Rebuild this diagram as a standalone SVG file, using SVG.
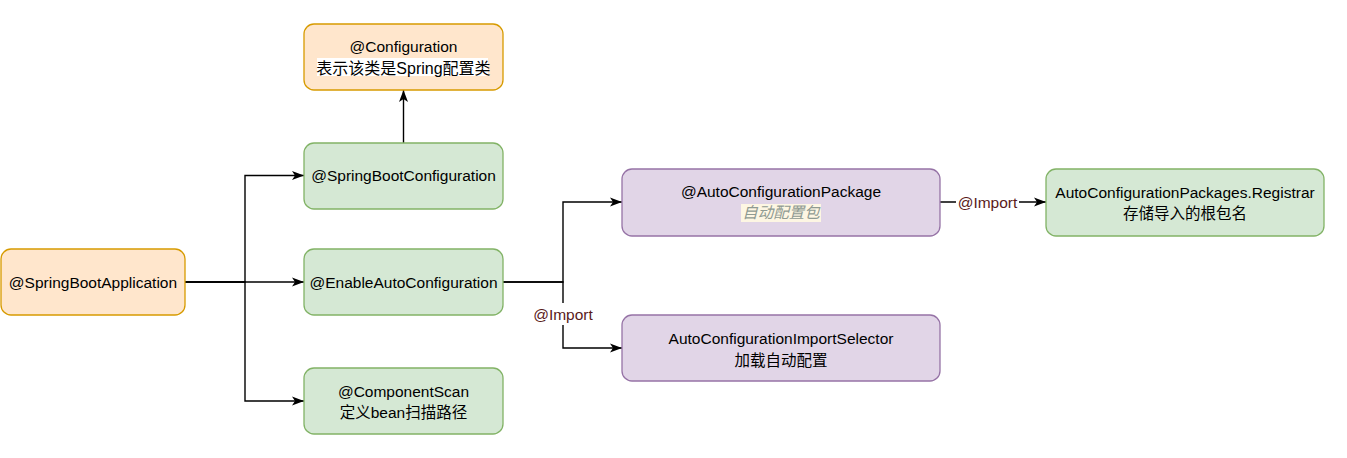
<svg xmlns="http://www.w3.org/2000/svg" width="1347" height="458" viewBox="0 0 1347 458">
<style>
text{font-family:"Liberation Sans","Noto Sans CJK SC",sans-serif;font-size:15.5px;fill:#000;text-anchor:middle}
.orange{fill:#ffe6cc;stroke:#d79b00;stroke-width:1.3}
.green{fill:#d5e8d4;stroke:#82b366;stroke-width:1.3}
.purple{fill:#e1d5e7;stroke:#9673a6;stroke-width:1.3}
.edge{fill:none;stroke:#000;stroke-width:1.4}
.lbl{fill:#5a1a1a}
</style>
<defs>
<marker id="arr" markerUnits="userSpaceOnUse" markerWidth="13" markerHeight="11" refX="12" refY="5.5" orient="auto">
<path d="M0,1 L12,5.5 L0,10 L3,5.5 Z" fill="#000"/>
</marker>
</defs>
<rect width="1347" height="458" fill="#fff"/>
<g id="connectors">
<path class="edge" d="M185,282 H304" marker-end="url(#arr)"/>
<path class="edge" d="M185,282 H245 V175.5 H304" marker-end="url(#arr)"/>
<path class="edge" d="M185,282 H245 V401 H304" marker-end="url(#arr)"/>
<path class="edge" d="M403.5,143 V90" marker-end="url(#arr)"/>
<path class="edge" d="M503,282 H563 V202 H622" marker-end="url(#arr)"/>
<path class="edge" d="M503,282 H563 V348 H622" marker-end="url(#arr)"/>
<rect x="532" y="303" width="62" height="22" fill="#fff"/>
<text class="lbl" x="563" y="319.5">@Import</text>
<path class="edge" d="M940,202 H1046" marker-end="url(#arr)"/>
<rect x="956" y="192" width="63" height="20" fill="#fff"/>
<text class="lbl" x="987.5" y="207.5">@Import</text>
</g>
<g id="configuration">
<rect class="orange" x="304" y="24" width="199" height="66" rx="10"/>
<text x="403.5" y="52">@Configuration</text>
<rect x="317" y="58" width="171" height="18" fill="#fff"/>
<text x="403.5" y="73.5" style="font-size:16px">表示该类是Spring配置类</text>
</g>
<g id="springBootConfiguration">
<rect class="green" x="304" y="143" width="199" height="66" rx="10"/>
<text x="403.5" y="181">@SpringBootConfiguration</text>
</g>
<g id="enableAutoConfiguration">
<rect class="green" x="304" y="249" width="199" height="66" rx="10"/>
<text x="403.5" y="287.5">@EnableAutoConfiguration</text>
</g>
<g id="componentScan">
<rect class="green" x="304" y="368" width="199" height="66" rx="10"/>
<text x="403.5" y="397">@ComponentScan</text>
<text x="403.5" y="418">定义bean扫描路径</text>
</g>
<g id="springBootApplication">
<rect class="orange" x="1" y="249" width="184" height="66" rx="10"/>
<text x="93" y="287.5">@SpringBootApplication</text>
</g>
<g id="autoConfigurationPackage">
<rect class="purple" x="622" y="169" width="318" height="67" rx="10"/>
<text x="781" y="197">@AutoConfigurationPackage</text>
<rect x="741" y="204" width="80" height="18" fill="#fdf6e3"/>
<text x="781" y="218" style="font-style:italic;fill:#8f9a92">自动配置包</text>
</g>
<g id="autoConfigurationImportSelector">
<rect class="purple" x="622" y="315" width="318" height="66" rx="10"/>
<text x="781" y="344">AutoConfigurationImportSelector</text>
<text x="781" y="365.5">加载自动配置</text>
</g>
<g id="registrar">
<rect class="green" x="1046" y="169" width="278" height="67" rx="10"/>
<text x="1185" y="198">AutoConfigurationPackages.Registrar</text>
<text x="1185" y="218.5">存储导入的根包名</text>
</g>
</svg>
